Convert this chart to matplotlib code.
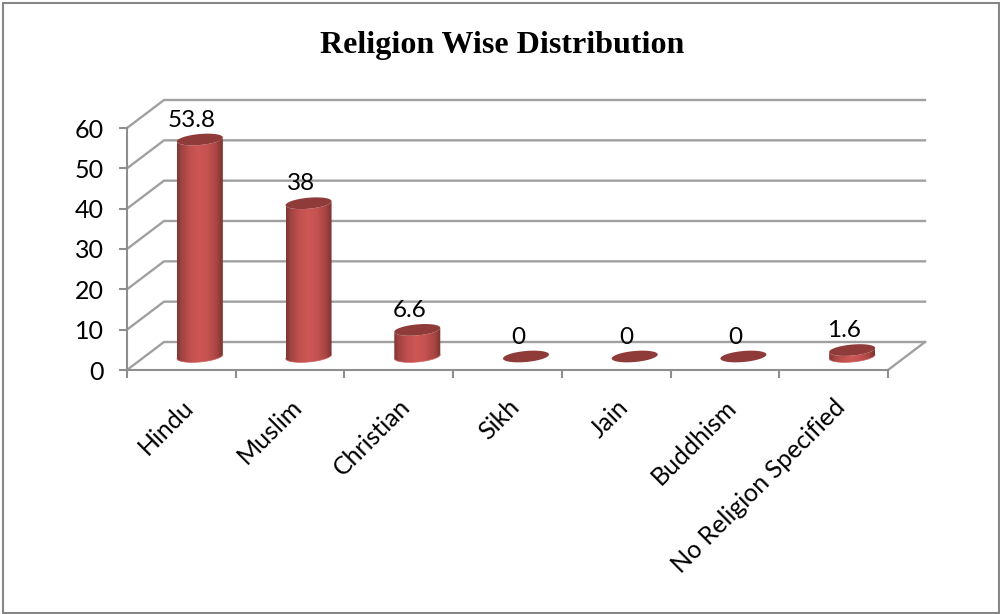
import numpy as np
import matplotlib
matplotlib.use("Agg")
import matplotlib.pyplot as plt
from matplotlib.colors import LinearSegmentedColormap
from matplotlib.patches import Polygon, Rectangle

categories = ["Hindu", "Muslim", "Christian", "Sikh", "Jain", "Buddhism", "No Religion Specified"]
values = [53.8, 38, 6.6, 0, 0, 0, 1.6]
y_ticks = [0, 10, 20, 30, 40, 50, 60]

GRID = "#a0a0a0"
AXIS = "#8e8e8e"
CAP = "#8f3b39"
LABEL_FONT = "Lato"

fig = plt.figure(figsize=(10, 6.14), dpi=100)
ax = fig.add_axes([0.127, 244 / 614, 0.761, 242 / 614])
ax.set_xlim(0, len(categories))
ax.set_ylim(0, 60)

# pixel sizes of one category and one y unit, used for the fake 3d depth
cat_px = 761 / len(categories)
unit_px = 242 / 60
depth_x = 37 / cat_px
depth_y = 28 / unit_px
base_y = 13.5 / unit_px

# back wall and side wall lines
for v in y_ticks:
    ax.plot([0, depth_x, len(categories) + depth_x], [v, v + depth_y, v + depth_y],
            color=GRID, lw=1.7, clip_on=False, zorder=1, solid_joinstyle="miter")
ax.plot([len(categories), len(categories) + depth_x], [0, depth_y],
        color=GRID, lw=1.7, clip_on=False, zorder=1)


def ellipse(xc, yc, t):
    # tilted ellipse, sizes are in pixels
    px = 23 * np.cos(t)
    py = 5.5 * np.sin(t) + 2.0 * np.cos(t)
    return xc + px / cat_px, yc + py / unit_px


shade = LinearSegmentedColormap.from_list(
    "cyl",
    [(0.0, "#7f3533"), (0.1, "#a04442"), (0.28, "#c04f4d"), (0.47, "#cd5755"),
     (0.66, "#c65351"), (0.86, "#a84644"), (1.0, "#7c3331")],
)
gradient = np.linspace(0, 1, 128).reshape(1, -1)

for i, v in enumerate(values):
    xc = i + 0.5 + depth_x / 2
    top = base_y + v
    if v > 0:
        lower = np.linspace(np.pi, 2 * np.pi, 40)
        bx, by = ellipse(xc, base_y, lower)
        tx, ty = ellipse(xc, top, lower[::-1])
        outline = np.column_stack([np.r_[bx, tx], np.r_[by, ty]])
        body = Polygon(outline, closed=True, transform=ax.transData, facecolor="none", edgecolor="none")
        ax.add_patch(body)
        img = ax.imshow(gradient, cmap=shade, aspect="auto", interpolation="bilinear",
                        extent=[xc - 23 / cat_px, xc + 23 / cat_px, base_y - 2, top + 2],
                        zorder=3)
        img.set_clip_path(body)
        ax.plot(bx, by, color="#cf6361", lw=0.5, clip_on=False, zorder=3.5)
    t = np.linspace(0, 2 * np.pi, 80)
    ex, ey = ellipse(xc, top, t)
    ax.fill(ex, ey, color=CAP, lw=0, clip_on=False, zorder=4)
    ax.annotate(f"{v:g}", (xc, top), xytext=(-5.8, 14), textcoords="offset points",
                ha="center", va="center", fontsize=17.5, family=LABEL_FONT,
                color="black", zorder=5, annotation_clip=False)

ax.set_xlim(0, len(categories))
ax.set_ylim(0, 60)

# axis lines and ticks
for name in ["top", "right"]:
    ax.spines[name].set_visible(False)
for name in ["left", "bottom"]:
    ax.spines[name].set_color(AXIS)
    ax.spines[name].set_linewidth(1.5)
ax.patch.set_visible(False)

ax.set_yticks(y_ticks)
ax.set_xticks(np.arange(len(categories) + 1))
ax.set_xticklabels([])
ax.set_xticks(np.arange(len(categories)) + 0.5, minor=True)
ax.set_xticklabels(categories, minor=True, rotation=45, ha="right", rotation_mode="anchor",
                   fontsize=18, family=LABEL_FONT)
ax.tick_params(axis="x", which="major", length=5.5, width=1.5, color=AXIS)
ax.tick_params(axis="x", which="minor", length=0, pad=18)
ax.tick_params(axis="y", length=5.5, width=1.5, color=AXIS, pad=11)
for lab in ax.get_yticklabels():
    lab.set_fontsize(18)
    lab.set_family(LABEL_FONT)

fig.text(0.502, 1 - 46 / 614, "Religion Wise Distribution", ha="center", va="center",
         fontsize=23, fontweight="bold", family="Liberation Serif")

# chart border
fig.add_artist(Rectangle((3 / 1000, 1 / 614), 996 / 1000, 610 / 614, transform=fig.transFigure,
                         facecolor="none", edgecolor="#868686", lw=1.5))

fig.savefig("out.png", dpi=100)
plt.close(fig)
